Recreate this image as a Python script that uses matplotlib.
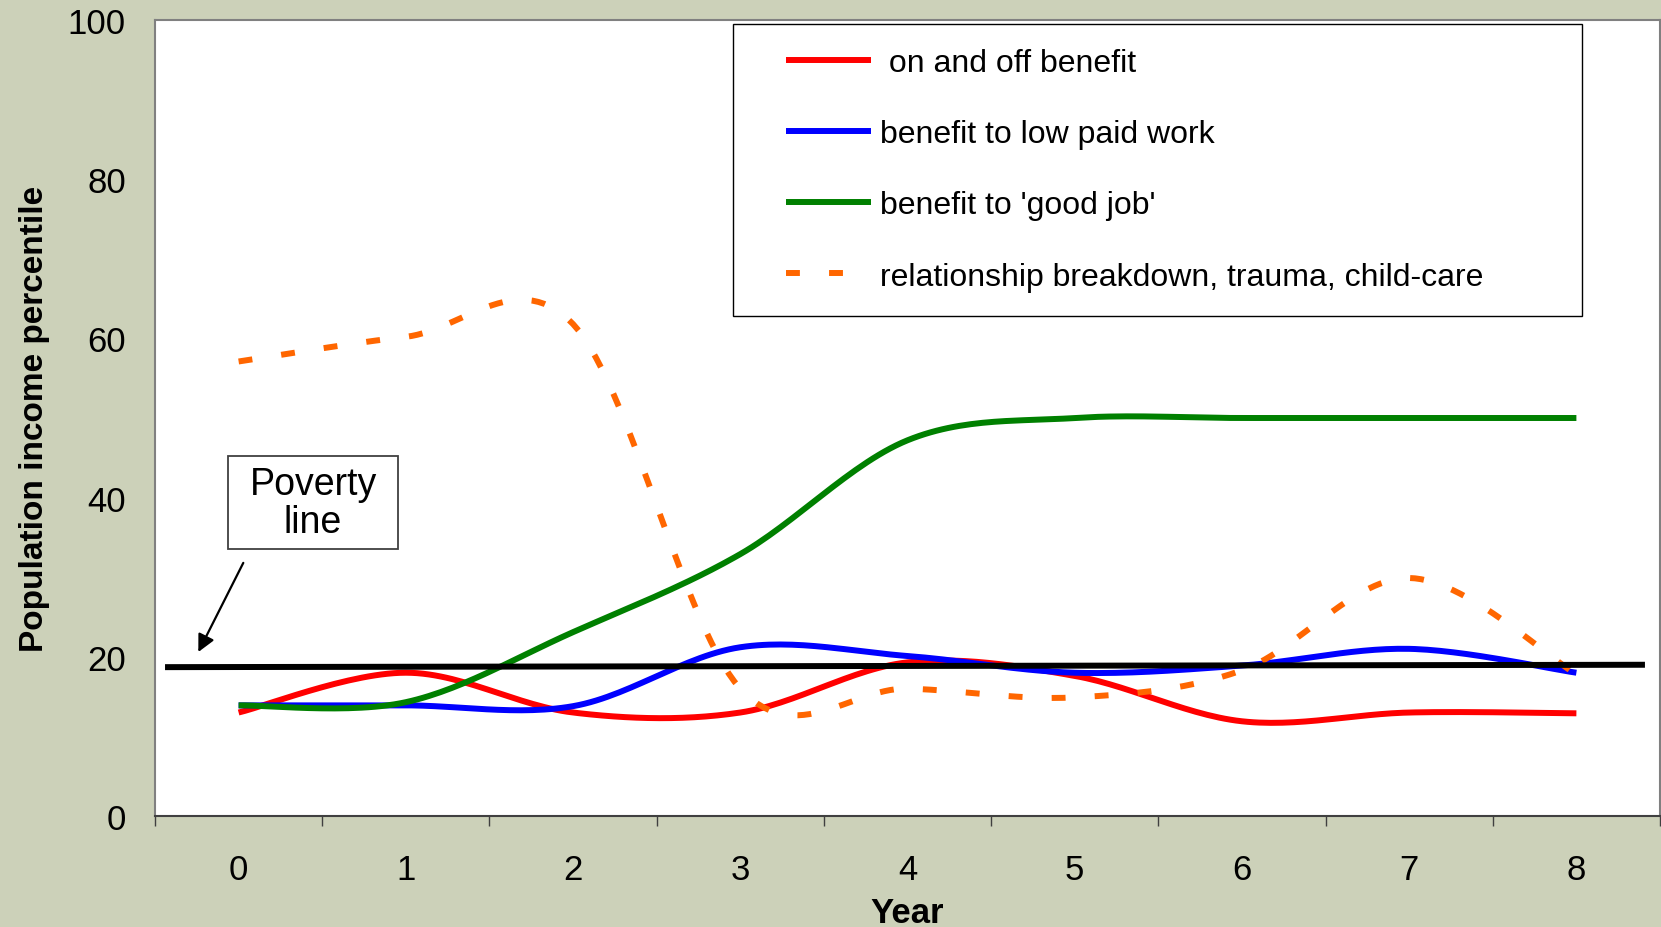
import numpy as np
import matplotlib.pyplot as plt
from matplotlib.lines import Line2D
from matplotlib.patches import Rectangle
from matplotlib.legend_handler import HandlerLine2D

plt.rcParams['font.family'] = ['Liberation Sans', 'DejaVu Sans']
plt.rcParams['lines.scale_dashes'] = False

# income percentile by year for each pathway
years = [0, 1, 2, 3, 4, 5, 6, 7, 8]
on_off_benefit = [13.0, 18.0, 13.0, 13.0, 19.3, 17.6, 11.9, 13.0, 12.9]
low_paid_work = [13.9, 13.9, 13.8, 21.2, 20.1, 18.0, 18.9, 21.0, 18.0]
good_job = [13.9, 14.3, 23.1, 32.9, 47.2, 50.0, 50.0, 50.0, 50.0]
breakdown = [57.1, 60.2, 61.8, 16.0, 16.0, 14.9, 18.3, 29.9, 17.8]

series = [on_off_benefit, low_paid_work, good_job, breakdown]
series_labels = [" on and off benefit", "benefit to low paid work",
                 "benefit to 'good job'", "relationship breakdown, trauma, child-care"]
series_colors = ["#FF0000", "#0000FF", "#008000", "#FF6600"]
series_dashed = [False, False, False, True]

# poverty line drawn across the plot (slightly tilted, as a drawn shape)
poverty_x = [-0.44, 8.41]
poverty_y = [18.7, 19.0]

BG = "#CCD1B9"
LW = 4.3


def smooth(x, y, steps=30):
    # Excel-style smoothed line: cubic Bezier between neighbouring points,
    # control points from the points either side
    x = np.asarray(x, float)
    y = np.asarray(y, float)
    px = np.concatenate([[x[0]], x, [x[-1]]])
    py = np.concatenate([[y[0]], y, [y[-1]]])
    t = np.linspace(0, 1, steps)[:, None]
    out = []
    for i in range(len(x) - 1):
        p0 = np.array([x[i], y[i]])
        p3 = np.array([x[i + 1], y[i + 1]])
        prev = np.array([px[i], py[i]])
        nxt = np.array([px[i + 3], py[i + 3]])
        c1 = p0 + (p3 - prev) / 6
        c2 = p3 - (nxt - p0) / 6
        seg = ((1 - t) ** 3 * p0 + 3 * (1 - t) ** 2 * t * c1
               + 3 * (1 - t) * t ** 2 * c2 + t ** 3 * p3)
        out.append(seg if i == 0 else seg[1:])
    out = np.vstack(out)
    return out[:, 0], out[:, 1]


fig = plt.figure(figsize=(16.61, 9.28), dpi=100)
fig.patch.set_facecolor(BG)
ax = fig.add_axes([155 / 1661, 111 / 928, 1505 / 1661, 796 / 928])
ax.set_facecolor("white")

handles = []
for vals, label, color, dashed in zip(series, series_labels, series_colors, series_dashed):
    sx, sy = smooth(years, vals)
    if dashed:
        line, = ax.plot(sx, sy, color=color, lw=LW, dashes=(10, 21),
                        dash_capstyle="butt", label=label, zorder=2)
    else:
        line, = ax.plot(sx, sy, color=color, lw=LW, solid_capstyle="butt",
                        label=label, zorder=2)
    handles.append(line)

ax.plot(poverty_x, poverty_y, color="black", lw=LW, solid_capstyle="butt", zorder=3)

# "Poverty line" callout
ax.add_patch(Rectangle((-0.065, 33.5), 1.018, 11.7, facecolor="white",
                       edgecolor="#404040", lw=1.3, zorder=4))
ax.text(0.445, 39.3, "Poverty\nline", ha="center", va="center", fontsize=27,
        linespacing=1.05, zorder=5)
ax.annotate("", xy=(-0.241, 20.6), xytext=(0.028, 31.8),
            arrowprops=dict(arrowstyle="-|>", color="black", lw=1.6,
                            mutation_scale=26, shrinkA=0, shrinkB=0),
            zorder=5)

ax.set_xlim(-0.5, 8.5)
ax.set_ylim(0, 100)
ax.set_xticks(years)
ax.set_xticks(np.arange(-0.5, 9.0, 1.0), minor=True)
ax.set_yticks(range(0, 101, 20))
ax.tick_params(axis="x", which="major", length=0, pad=27, labelsize=25)
ax.tick_params(axis="x", which="minor", length=7.2, width=1.0, color="#404040",
               direction="out")
ax.tick_params(axis="y", length=0, pad=21, labelsize=25)

for side in ["left", "top", "right"]:
    ax.spines[side].set_color("#808080")
    ax.spines[side].set_linewidth(1.5)
ax.spines["bottom"].set_color("#404040")
ax.spines["bottom"].set_linewidth(1.5)

ax.set_ylabel("Population income percentile", fontsize=24, fontweight="bold")
ax.yaxis.set_label_coords(-0.0698, 0.5)
ax.set_xlabel("Year", fontsize=25, fontweight="bold")
ax.xaxis.set_label_coords(0.5, -0.1)

leg = ax.legend(handles=handles, loc="upper left",
                bbox_to_anchor=(0.384, 0.995, 0.564, 0), mode="expand",
                borderaxespad=0, fontsize=23, handlelength=3.57,
                handletextpad=0.28, labelspacing=1.29, borderpad=0.75,
                frameon=True, fancybox=False, framealpha=1,
                handler_map={Line2D: HandlerLine2D(xpad=0.91)})
leg.get_frame().set_edgecolor("black")
leg.get_frame().set_linewidth(1.0)

fig.savefig("out.png", dpi=100, facecolor=BG)
